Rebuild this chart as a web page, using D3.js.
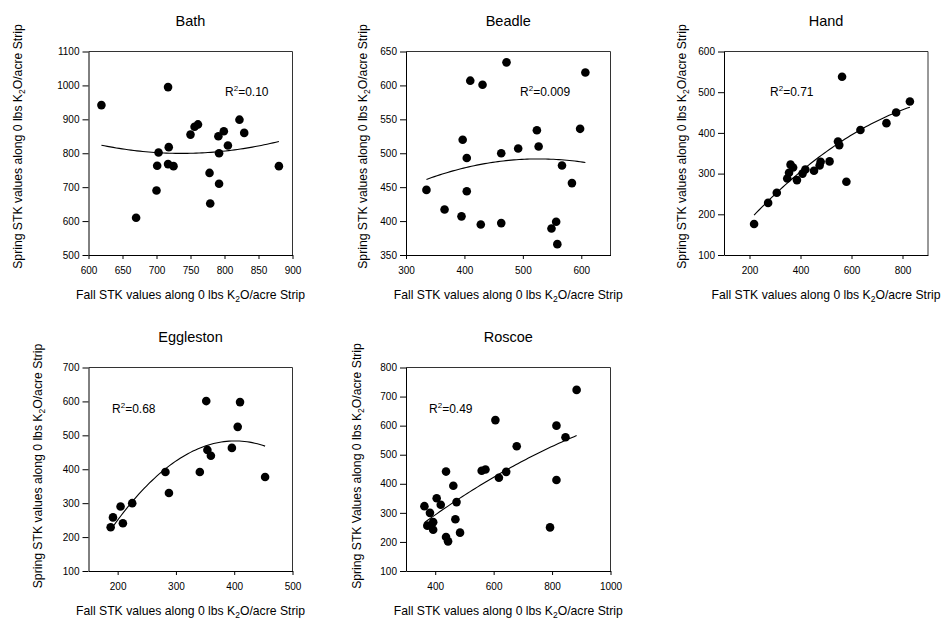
<!DOCTYPE html>
<html><head><meta charset="utf-8">
<script src="https://cdn.jsdelivr.net/npm/d3@7"></script>
<style>body{margin:0;background:#fff} text{font-family:"Liberation Sans",Arial,sans-serif;fill:#000}</style>
</head><body><svg id="c" width="943" height="618"></svg>
<script>
// ---- Data ----
const bathFall   = [619,670,717,700,701,703,718,717,725,750,756,761,778,779,791,792,792,799,805,822,829,880];
const bathSpring = [942,610,995,690,763,802,818,768,762,855,878,885,742,652,850,710,800,865,823,899,860,762];
const beadleFall   = [335,366,395,397,404,404,410,428,431,463,463,472,492,524,527,549,557,559,567,584,598,607];
const beadleSpring = [446,417,407,520,493,444,607,395,601,397,500,634,507,534,510,389,399,366,482,456,536,619];
const handFall   = [218,273,307,348,355,361,371,386,408,419,453,475,479,514,547,552,563,580,635,737,775,829];
const handSpring = [176,228,253,288,302,322,315,284,300,310,307,320,329,330,379,370,538,280,407,424,450,477];
const egglestonFall   = [188,192,205,209,225,282,288,341,352,354,360,396,406,410,453];
const egglestonSpring = [229,258,290,241,300,392,330,392,601,457,440,463,525,598,377];
const roscoeFall   = [363,373,382,393,393,405,419,437,437,444,462,469,473,485,559,572,606,618,643,679,793,815,815,846,884];
const roscoeSpring = [323,256,300,268,242,350,328,442,217,202,393,278,337,232,445,449,619,421,441,529,250,600,413,560,723];

const siteNames = ["Bath","Beadle","Hand","Eggleston","Roscoe"];
const r2Labels  = ["0.10","0.009","0.71","0.68","0.49"];
const bathXTicks = [600,650,700,750,800,850,900];
const bathYTicks = [500,600,700,800,900,1000,1100];
const beadleXTicks = [300,400,500,600];
const beadleYTicks = [350,400,450,500,550,600,650];
const handXTicks = [200,400,600,800];
const handYTicks = [100,200,300,400,500,600];
const egglestonXTicks = [200,300,400,500];
const egglestonYTicks = [100,200,300,400,500,600,700];
const roscoeXTicks = [400,600,800,1000];
const roscoeYTicks = [100,200,300,400,500,600,700,800];

// ---- Layout ----
const panels = [
  {fall:bathFall, spring:bathSpring, xDom:[600,900], yDom:[500,1100], xt:bathXTicks, yt:bathYTicks,
   box:[88.5,51.5,204,203.5], r2Pos:[136.5,44.5], yLab:[22,146.5], yWord:"values"},
  {fall:beadleFall, spring:beadleSpring, xDom:[300,650], yDom:[350,650], xt:beadleXTicks, yt:beadleYTicks,
   box:[406,51.5,204.5,203.5], r2Pos:[114,44.5], yLab:[367,146.5], yWord:"values"},
  {fall:handFall, spring:handSpring, xDom:[100,900], yDom:[100,600], xt:handXTicks, yt:handYTicks,
   box:[724,51.5,204,203.5], r2Pos:[46,44.5], yLab:[686,146.5], yWord:"values"},
  {fall:egglestonFall, spring:egglestonSpring, xDom:[150,500], yDom:[100,700], xt:egglestonXTicks, yt:egglestonYTicks,
   box:[88.5,367.5,204,203.5], r2Pos:[23.5,45.5], yLab:[42,466], yWord:"values"},
  {fall:roscoeFall, spring:roscoeSpring, xDom:[300,1000], yDom:[100,800], xt:roscoeXTicks, yt:roscoeYTicks,
   box:[406,367.5,204.5,203.5], r2Pos:[23,45.5], yLab:[361,466], yWord:"Values"}
];

function quadFit(xs, ys){
  const m = d3.mean(xs);
  let s = [0,0,0,0,0], t=[0,0,0];
  xs.forEach((x,i)=>{ const u=x-m; let p=1; for(let k=0;k<5;k++){ s[k]+=p; if(k<3) t[k]+=p*ys[i]; p*=u; } });
  const A=[[s[0],s[1],s[2],t[0]],[s[1],s[2],s[3],t[1]],[s[2],s[3],s[4],t[2]]];
  for(let i=0;i<3;i++){ for(let j=i+1;j<3;j++){ const f=A[j][i]/A[i][i]; for(let k=i;k<4;k++) A[j][k]-=f*A[i][k]; } }
  const c=[0,0,0];
  for(let i=2;i>=0;i--){ let v=A[i][3]; for(let k=i+1;k<3;k++) v-=A[i][k]*c[k]; c[i]=v/A[i][i]; }
  return x => { const u=x-m; return c[0]+c[1]*u+c[2]*u*u; };
}

const svg = d3.select("#c");
const fmt = d3.format("d");
panels.forEach((p,pi)=>{
  const [bx,by,bw,bh] = p.box;
  const x = d3.scaleLinear().domain(p.xDom).range([bx,bx+bw]);
  const y = d3.scaleLinear().domain(p.yDom).range([by+bh,by]);
  const g = svg.append("g");
  g.append("path").attr("d",`M${bx},${by}H${bx+bw}V${by+bh}`).attr("fill","none").attr("stroke","#333").attr("stroke-width",1);
  const xa = g.append("g").attr("transform",`translate(0,${by+bh})`)
    .call(d3.axisBottom(x).tickValues(p.xt).tickFormat(fmt).tickSize(4).tickPadding(8).tickSizeOuter(0));
  const ya = g.append("g").attr("transform",`translate(${bx},0)`)
    .call(d3.axisLeft(y).tickValues(p.yt).tickFormat(fmt).tickSize(6).tickPadding(3).tickSizeOuter(0));
  [xa,ya].forEach(a=>{ a.selectAll("text").style("font-size","10px").attr("fill","#000");
    a.selectAll("line,path").attr("stroke","#000"); });
  g.append("text").attr("x",bx+bw/2).attr("y",by-25.5).attr("text-anchor","middle")
    .style("font-size","14.5px").text(siteNames[pi]);
  const xl = g.append("text").attr("x",bx+bw/2).attr("y",by+bh+43.5).attr("text-anchor","middle").style("font-size","12.2px");
  xl.append("tspan").text("Fall STK values along 0 lbs K");
  xl.append("tspan").attr("dy",3).style("font-size","8.5px").text("2");
  xl.append("tspan").attr("dy",-3).text("O/acre Strip");
  const yl = g.append("text").attr("transform",`translate(${p.yLab[0]},${p.yLab[1]}) rotate(-90)`)
    .attr("text-anchor","middle").style("font-size","12.2px");
  yl.append("tspan").text(`Spring STK ${p.yWord} along 0 lbs K`);
  yl.append("tspan").attr("dy",3).style("font-size","8.5px").text("2");
  yl.append("tspan").attr("dy",-3).text("O/acre Strip");
  const f = quadFit(p.fall, p.spring);
  const [x0,x1] = d3.extent(p.fall);
  const pts = d3.range(0,61).map(i=>{ const xv=x0+(x1-x0)*i/60; return [xv,f(xv)]; });
  g.append("path").datum(pts).attr("fill","none").attr("stroke","#000").attr("stroke-width",1.1)
    .attr("d",d3.line().x(d=>x(d[0])).y(d=>y(d[1])));
  g.selectAll("circle").data(p.fall.map((v,i)=>[v,p.spring[i]])).join("circle")
    .attr("cx",d=>x(d[0])).attr("cy",d=>y(d[1])).attr("r",4.3).attr("fill","#000");
  const rt = g.append("text").attr("x",bx+p.r2Pos[0]).attr("y",by+p.r2Pos[1]).style("font-size","12px");
  rt.append("tspan").text("R");
  rt.append("tspan").attr("dy",-5).style("font-size","8px").text("2");
  rt.append("tspan").attr("dy",5).text("=" + r2Labels[pi]);
});
</script></body></html>
